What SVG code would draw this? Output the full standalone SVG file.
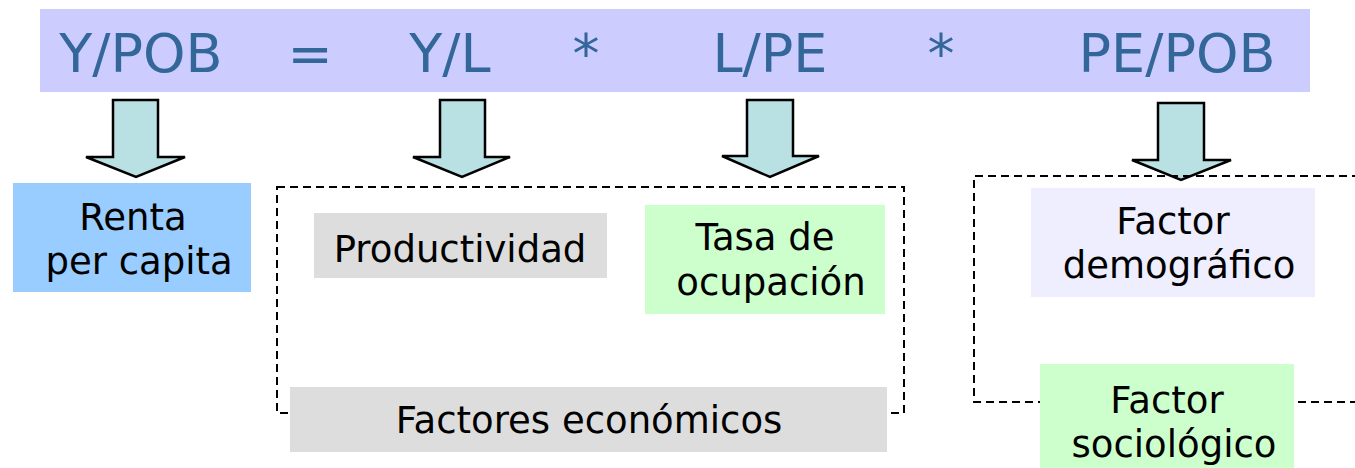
<svg xmlns="http://www.w3.org/2000/svg" width="1355" height="468" viewBox="0 0 1355 468">
<style>
.eq{font-family:"DejaVu Sans",Verdana,sans-serif;font-size:54px;fill:#336699;text-anchor:middle}
.t{font-family:"DejaVu Sans",Verdana,sans-serif;font-size:37px;fill:#000;text-anchor:middle}
.arrow{fill:#B9E0E2;stroke:#000;stroke-width:2.5;stroke-linejoin:miter}
.dash{fill:none;stroke:#000;stroke-width:2;stroke-dasharray:8 5}
</style>
<rect width="1355" height="468" fill="#fff"/>
<g id="equation">
<rect x="40" y="9" width="1270" height="83" fill="#CCCCFF"/>
<text class="eq" x="141" y="72">Y/POB</text>
<text class="eq" x="310" y="72">=</text>
<text class="eq" x="450" y="72">Y/L</text>
<text class="eq" x="586" y="72">*</text>
<text class="eq" x="770" y="72">L/PE</text>
<text class="eq" x="941" y="72">*</text>
<text class="eq" x="1177" y="72">PE/POB</text>
</g>
<g id="connectors">
<path class="arrow" d="M113,100 H158 V157 H185 L136,177 L86,157 H113 Z"/>
<path class="arrow" d="M440,100 H485 V157 H510 L462,177 L413,157 H440 Z"/>
<path class="arrow" d="M747,100 H793 V156 H819 L770,177 L722,156 H747 Z"/>
<path class="arrow" d="M1158,103 H1204 V160 H1231 L1181,180 L1132,160 H1158 Z"/>
<path class="dash" d="M277,187 H904 V413 H277 Z"/>
<path class="dash" d="M1360,176 H974 V402 H1360"/>
</g>
<g id="renta">
<rect x="13" y="183" width="238" height="109" fill="#99CCFF"/>
<text class="t" x="133" y="230">Renta</text>
<text class="t" x="139" y="274">per capita</text>
</g>
<g id="productividad">
<rect x="314" y="213" width="293" height="65" fill="#DDDDDD"/>
<text class="t" x="460" y="262">Productividad</text>
</g>
<g id="tasa">
<rect x="645" y="205" width="240" height="109" fill="#CCFFCC"/>
<text class="t" x="765" y="250">Tasa de</text>
<text class="t" x="771" y="295">ocupación</text>
</g>
<g id="factores-economicos">
<rect x="290" y="387" width="597" height="65" fill="#DDDDDD"/>
<text class="t" x="589" y="433">Factores económicos</text>
</g>
<g id="demografico">
<rect x="1031" y="188" width="284" height="109" fill="#EEEEFF"/>
<text class="t" x="1173" y="234">Factor</text>
<text class="t" x="1179" y="278">demográfico</text>
</g>
<g id="sociologico">
<rect x="1040" y="364" width="254" height="104" fill="#CCFFCC"/>
<text class="t" x="1167" y="413">Factor</text>
<text class="t" x="1174" y="457">sociológico</text>
</g>
</svg>
